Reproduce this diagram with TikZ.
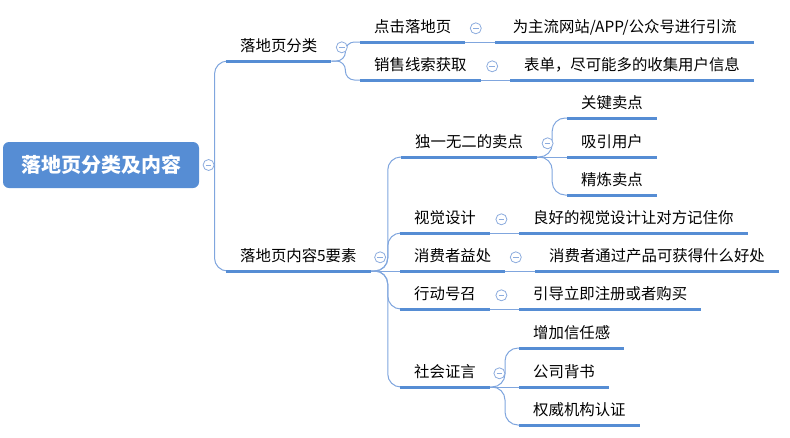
\documentclass[tikz,border=0pt]{standalone}
\usepackage{fontspec}
\setmainfont{Noto Sans CJK SC}
\usetikzlibrary{positioning}

\definecolor{mapblue}{RGB}{86,141,212}
\definecolor{linkblue}{RGB}{128,166,222}
\definecolor{foldblue}{RGB}{140,172,222}

\tikzset{
  rootbox/.style={fill=mapblue, rounded corners=6pt, minimum width=196pt, minimum height=46pt,
    text=white, font=\fontsize{20}{24}\selectfont\bfseries},
  topic/.style={anchor=south west, inner xsep=14pt, inner ysep=8.5pt,
    text height=0.88em, text depth=0.12em, font=\fontsize{15.4}{18}\selectfont},
  uline/.style={draw=mapblue, line width=3pt},
  conn/.style={draw=linkblue, line width=1pt},
  brace/.style={conn, rounded corners=9pt},
  bigbrace/.style={conn, rounded corners=13pt},
  fold/.style={circle, draw=foldblue, fill=white, line width=0.8pt, minimum size=11pt, inner sep=0pt,
    path picture={\draw[foldblue, line width=0.8pt]
      ([xshift=-2.8pt]path picture bounding box.center) -- ([xshift=2.8pt]path picture bounding box.center);}}
}

\begin{document}
\begin{tikzpicture}[x=1pt, y=-1pt]
    \useasboundingbox (0,0) rectangle (790,437);

    % Root
    \node[rootbox] (root) at (101,165) {落地页分类及内容};
    \node[fold, right=3.5pt of root] (f0) {};

    % Main branches
    \node[topic] (b1) at (226,61) {落地页分类};
    \node[topic] (b2) at (226,271) {落地页内容5要素};

    % Landing page types
    \node[topic] (c11) at (360,42) {点击落地页};
    \node[topic] (c12) at (360,80) {销售线索获取};
    \node[topic, minimum width=259pt] (l11) at (495,42) {为主流网站/APP/公众号进行引流};
    \node[topic] (l12) at (510,80) {表单，尽可能多的收集用户信息};

    % Five elements
    \node[topic] (c21) at (401,157) {独一无二的卖点};
    \node[topic] (c22) at (400,233) {视觉设计};
    \node[topic] (c23) at (400,271) {消费者益处};
    \node[topic] (c24) at (400,309) {行动号召};
    \node[topic] (c25) at (400,387) {社会证言};

    \node[topic] (l211) at (567,118) {关键卖点};
    \node[topic] (l212) at (567,157) {吸引用户};
    \node[topic] (l213) at (567,195) {精炼卖点};
    \node[topic] (l22) at (519,233) {良好的视觉设计让对方记住你};
    \node[topic] (l23) at (535,271) {消费者通过产品可获得什么好处};
    \node[topic] (l24) at (519,309) {引导立即注册或者购买};
    \node[topic] (l251) at (519,348) {增加信任感};
    \node[topic] (l252) at (519,387) {公司背书};
    \node[topic] (l253) at (519,425) {权威机构认证};

    % Connectors
    \draw[bigbrace] (f0.east) |- (b1.south west);
    \draw[bigbrace] (f0.east) |- (b2.south west);

    \draw[brace] (b1.south east) -- ++(14,0) |- (c11.south west);
    \draw[brace] (b1.south east) -- ++(14,0) |- (c12.south west);
    \draw[conn] (c11.south east) -- (l11.south west);
    \draw[conn] (c12.south east) -- (l12.south west);

    \draw[bigbrace] (b2.south east) -- ++(17,0) |- (c21.south west);
    \draw[bigbrace] (b2.south east) -- ++(17,0) |- (c22.south west);
    \draw[conn] (b2.south east) -- (c23.south west);
    \draw[bigbrace] (b2.south east) -- ++(17,0) |- (c24.south west);
    \draw[bigbrace] (b2.south east) -- ++(17,0) |- (c25.south west);

    \draw[bigbrace] (c21.south east) -- ++(15,0) |- (l211.south west);
    \draw[conn] (c21.south east) -- (l212.south west);
    \draw[bigbrace] (c21.south east) -- ++(15,0) |- (l213.south west);
    \draw[conn] (c22.south east) -- (l22.south west);
    \draw[conn] (c23.south east) -- (l23.south west);
    \draw[conn] (c24.south east) -- (l24.south west);
    \draw[bigbrace] (c25.south east) -- ++(15,0) |- (l251.south west);
    \draw[conn] (c25.south east) -- (l252.south west);
    \draw[bigbrace] (c25.south east) -- ++(15,0) |- (l253.south west);

    % Underlines
    \foreach \n in {b1,b2,c11,c12,l11,l12,c21,c22,c23,c24,c25,
                    l211,l212,l213,l22,l23,l24,l251,l252,l253}
      \draw[uline] (\n.south west) -- (\n.south east);

    % Fold markers
    \node[fold, right=4.5pt of b1] (f1) {};
    \node[fold, right=3.5pt of b2] (f2) {};
    \node[fold, right=4.5pt of c11] (f11) {};
    \node[fold, right=5.5pt of c12] (f12) {};
    \node[fold, right=4.5pt of c21] (f21) {};
    \node[fold, right=5.5pt of c22] (f22) {};
    \node[fold, right=4.5pt of c23] (f23) {};
    \node[fold, right=5.5pt of c24] (f24) {};
    \node[fold, right=3.5pt of c25] (f25) {};
\end{tikzpicture}
\end{document}
